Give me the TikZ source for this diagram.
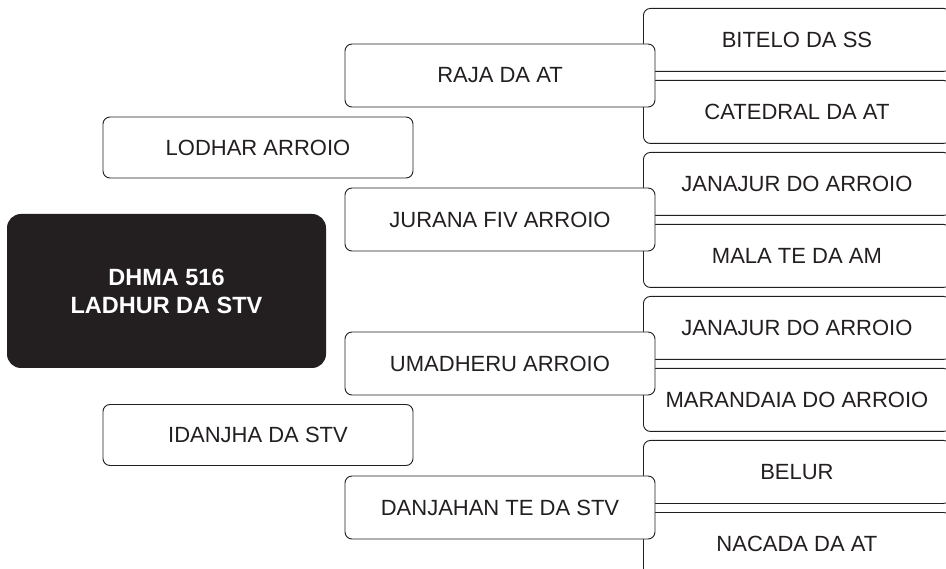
\documentclass[tikz,border=0pt]{standalone}
\usepackage{fontspec}
\setmainfont{Liberation Sans}
\usetikzlibrary{positioning}

\definecolor{inkdark}{RGB}{35,31,32}

\tikzset{
	box/.style={draw=inkdark, line width=0.9pt, rounded corners=7pt, fill=white,
		minimum width=310pt, minimum height=62pt, inner sep=0pt,
		text=inkdark, font=\fontsize{22}{26}\selectfont},
	leaf/.style={box, minimum width=307pt, minimum height=63pt, anchor=north west},
	rootbox/.style={fill=inkdark, rounded corners=14pt, minimum width=319pt,
		minimum height=154pt, inner sep=0pt, align=center, text=white,
		font=\fontsize{23.5}{28}\selectfont\bfseries}
}

\begin{document}
\begin{tikzpicture}[x=1pt, y=-1pt]
			\clip (0,0) rectangle (946,569);
			%root
			\node[rootbox] (root) at (166.5,291) {DHMA 516\\LADHUR DA STV};
			%side boxes
			\node[box, minimum height=61pt] (lodhar) at (258,147.5) {LODHAR ARROIO};
			\node[box, minimum height=61pt] (idanjha) at (258,435) {IDANJHA DA STV};
			%groups
			\foreach \y/\midtext/\toptext/\bottext [count=\i] in {
				8/RAJA DA AT/BITELO DA SS/CATEDRAL DA AT,
				152/JURANA FIV ARROIO/JANAJUR DO ARROIO/MALA TE DA AM,
				296/UMADHERU ARROIO/JANAJUR DO ARROIO/MARANDAIA DO ARROIO,
				440/DANJAHAN TE DA STV/BELUR/NACADA DA AT
			}{
				\node[leaf] (top\i) at (643,\y) {\toptext};
				\node[leaf] (bot\i) at (643,\y+72) {\bottext};
				\node[box, minimum height=63pt] (mid\i) at (500,\y+67.5) {\midtext};
			}
\end{tikzpicture}
\end{document}
